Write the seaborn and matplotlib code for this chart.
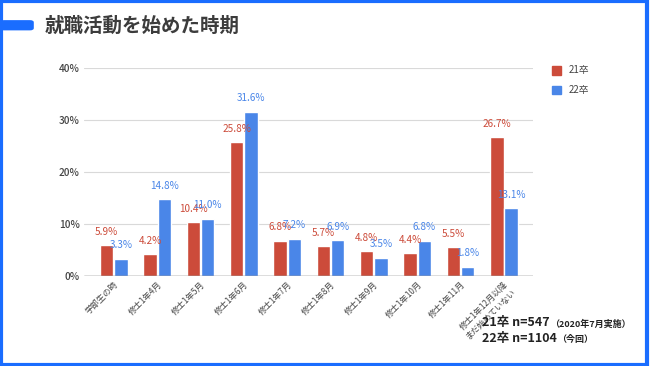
import pandas as pd
import matplotlib.pyplot as plt
import seaborn as sns
from matplotlib.patches import Rectangle, FancyBboxPatch, Patch

# data
categories = ["学部生の時", "修士1年4月", "修士1年5月", "修士1年6月", "修士1年7月",
              "修士1年8月", "修士1年9月", "修士1年10月", "修士1年11月",
              "修士1年12月以降\nまだ始めていない"]
grad21 = [5.9, 4.2, 10.4, 25.8, 6.8, 5.7, 4.8, 4.4, 5.5, 26.7]
grad22 = [3.3, 14.8, 11.0, 31.6, 7.2, 6.9, 3.5, 6.8, 1.8, 13.1]
series = ["21卒", "22卒"]
colors = ["#cc4b3a", "#4a86e8"]
yticks = [0, 10, 20, 30, 40]

df = pd.DataFrame({
    "category": categories * 2,
    "series": [series[0]] * len(categories) + [series[1]] * len(categories),
    "value": grad21 + grad22,
})

sns.set_theme(style="white")
plt.rcParams["font.family"] = ["Noto Sans CJK JP", "DejaVu Sans"]

fig = plt.figure(figsize=(6.5, 3.66), dpi=100)
ax = fig.add_axes([0.129, 0.246, 0.691, 0.568])

sns.barplot(data=df, x="category", y="value", hue="series", palette=colors,
            width=0.66, gap=0.06, saturation=1, legend=False, ax=ax)

for cont, c in zip(ax.containers, colors):
    ax.bar_label(cont, labels=[f"{v:.1f}%" for v in cont.datavalues],
                 padding=6, fontsize=7.2, color=c)

ax.set_xlim(-0.69, 9.67)
ax.set_ylim(0, 40)
ax.set_yticks(yticks)
ax.set_yticklabels([f"{t}%" for t in yticks], fontsize=7.2, color="#444444",
                   fontweight="medium")
ax.set_xticks(range(len(categories)))
ax.set_xticklabels(categories, rotation=45, ha="right", rotation_mode="anchor",
                   fontsize=6, color="#444444", linespacing=1.1)
ax.tick_params(axis="both", length=0, pad=3)
ax.set_xlabel("")
ax.set_ylabel("")
for t in yticks[1:]:
    ax.axhline(t, color="#d9d9d9", lw=0.8, zorder=0)
ax.axhline(0, color="#555555", lw=1, zorder=3)
sns.despine(ax=ax, left=True, bottom=True)

handles = [Patch(color=c, label=s) for c, s in zip(colors, series)]
fig.legend(handles=handles, loc="upper left", bbox_to_anchor=(0.835, 0.845),
           frameon=False, fontsize=7, handlelength=1.0, handleheight=1.0,
           labelspacing=1.0, labelcolor="#444444")

# frame and title
fig.patches.append(Rectangle((0.002, 0.004), 0.994, 0.992, transform=fig.transFigure,
                             fill=False, edgecolor="#1a6dff", lw=3, zorder=0))
fig.patches.append(FancyBboxPatch((0, 0.917), 0.052, 0.028, transform=fig.transFigure,
                                  boxstyle="round,pad=0,rounding_size=0.006",
                                  facecolor="#1a6dff", edgecolor="none"))
fig.text(0.068, 0.929, "就職活動を始めた時期", fontsize=14, fontweight="bold",
         color="#3c3c3c", va="center")

# sample size note
fig.canvas.draw()
renderer = fig.canvas.get_renderer()
notes = [("21卒 n=547", "（2020年7月実施）", 0.108), ("22卒 n=1104", "（今回）", 0.065)]
for main, sub, y in notes:
    t = fig.text(0.742, y, main, fontsize=9, fontweight="bold", color="#222222", va="baseline")
    bb = t.get_window_extent(renderer).transformed(fig.transFigure.inverted())
    fig.text(bb.x1, y, sub, fontsize=6.5, fontweight="bold", color="#222222", va="baseline")

fig.savefig("out.png", dpi=100)
plt.close()
